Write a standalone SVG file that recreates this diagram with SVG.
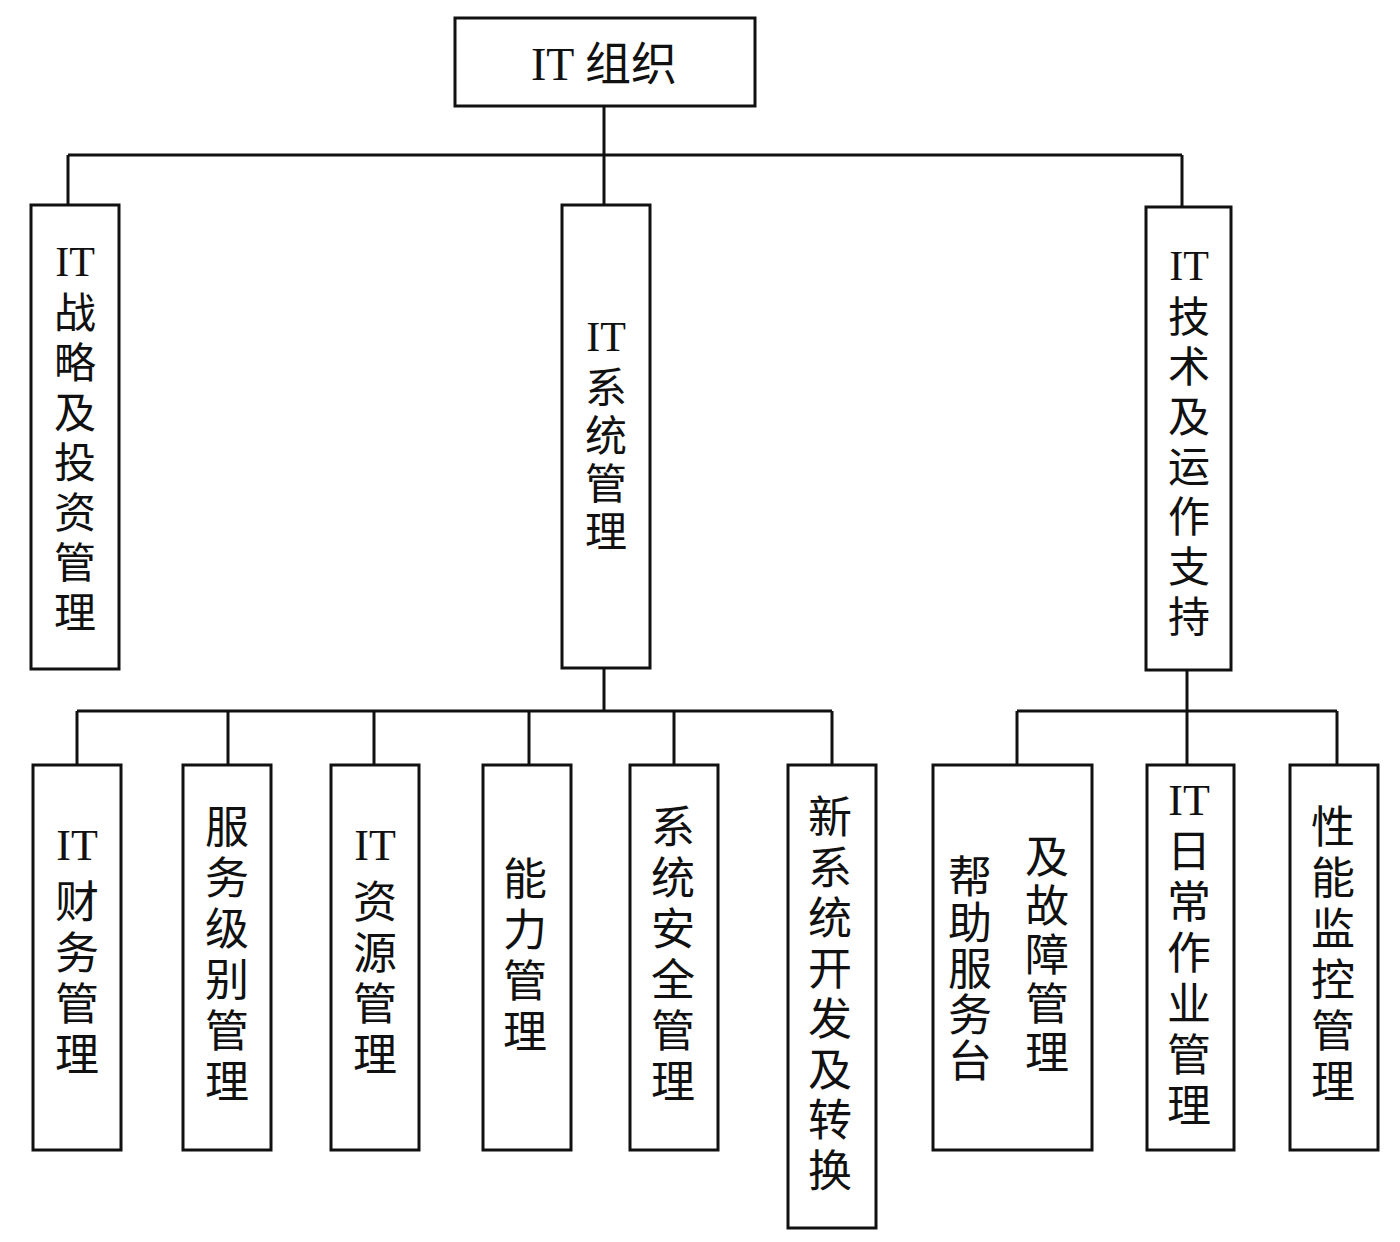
<svg xmlns="http://www.w3.org/2000/svg" width="1400" height="1242" viewBox="0 0 1400 1242">
<style>
rect{fill:#fff;stroke:#111;stroke-width:3}
.c line{stroke:#111;stroke-width:3}
text{font-family:"Liberation Serif","Noto Sans CJK SC",serif;fill:#111;text-anchor:middle;dominant-baseline:central}
.a{font-size:42px}
.b{font-size:44px}
</style>
<rect x="0" y="0" width="1400" height="1242" style="stroke:none"/>
<g class="c">
<line x1="604" y1="106" x2="604" y2="155"/><line x1="68" y1="155" x2="1182" y2="155"/>
<line x1="68" y1="155" x2="68" y2="205"/><line x1="604" y1="155" x2="604" y2="205"/><line x1="1182" y1="155" x2="1182" y2="207"/>
<line x1="604" y1="668" x2="604" y2="711"/><line x1="77" y1="711" x2="832" y2="711"/>
<line x1="77" y1="711" x2="77" y2="765"/><line x1="228" y1="711" x2="228" y2="765"/><line x1="374" y1="711" x2="374" y2="765"/><line x1="529" y1="711" x2="529" y2="765"/><line x1="674" y1="711" x2="674" y2="765"/><line x1="832" y1="711" x2="832" y2="765"/>
<line x1="1187" y1="670" x2="1187" y2="711"/><line x1="1017" y1="711" x2="1337" y2="711"/>
<line x1="1017" y1="711" x2="1017" y2="765"/><line x1="1187" y1="711" x2="1187" y2="765"/><line x1="1337" y1="711" x2="1337" y2="765"/>
</g>
<g id="root"><rect x="455" y="18" width="300" height="88"/><text x="604" y="64" style="font-size:46px">IT 组织</text></g>
<g id="n1"><rect x="31" y="205" width="88" height="464"/><text class="a" x="75" y="262"><tspan x="75">IT</tspan><tspan x="75" dy="52">战</tspan><tspan x="75" dy="50">略</tspan><tspan x="75" dy="50">及</tspan><tspan x="75" dy="50">投</tspan><tspan x="75" dy="50">资</tspan><tspan x="75" dy="50">管</tspan><tspan x="75" dy="50">理</tspan></text></g>
<g id="n2"><rect x="562" y="205" width="88" height="463"/><text class="a" x="606" y="337"><tspan x="606">IT</tspan><tspan x="606" dy="52">系</tspan><tspan x="606" dy="48">统</tspan><tspan x="606" dy="48">管</tspan><tspan x="606" dy="48">理</tspan></text></g>
<g id="n3"><rect x="1146" y="207" width="85" height="463"/><text class="a" x="1189" y="266"><tspan x="1189">IT</tspan><tspan x="1189" dy="52">技</tspan><tspan x="1189" dy="50">术</tspan><tspan x="1189" dy="50">及</tspan><tspan x="1189" dy="50">运</tspan><tspan x="1189" dy="50">作</tspan><tspan x="1189" dy="50">支</tspan><tspan x="1189" dy="50">持</tspan></text></g>
<g id="n4"><rect x="33" y="765" width="88" height="385"/><text class="b" x="77" y="845"><tspan x="77">IT</tspan><tspan x="77" dy="58">财</tspan><tspan x="77" dy="51">务</tspan><tspan x="77" dy="51">管</tspan><tspan x="77" dy="51">理</tspan></text></g>
<g id="n5"><rect x="183" y="765" width="88" height="385"/><text class="b" x="227" y="828"><tspan x="227">服</tspan><tspan x="227" dy="51">务</tspan><tspan x="227" dy="51">级</tspan><tspan x="227" dy="51">别</tspan><tspan x="227" dy="51">管</tspan><tspan x="227" dy="51">理</tspan></text></g>
<g id="n6"><rect x="331" y="765" width="88" height="385"/><text class="b" x="375" y="845"><tspan x="375">IT</tspan><tspan x="375" dy="58">资</tspan><tspan x="375" dy="51">源</tspan><tspan x="375" dy="51">管</tspan><tspan x="375" dy="51">理</tspan></text></g>
<g id="n7"><rect x="483" y="765" width="88" height="385"/><text class="b" x="525" y="880"><tspan x="525">能</tspan><tspan x="525" dy="51">力</tspan><tspan x="525" dy="51">管</tspan><tspan x="525" dy="51">理</tspan></text></g>
<g id="n8"><rect x="630" y="765" width="88" height="385"/><text class="b" x="673" y="828"><tspan x="673">系</tspan><tspan x="673" dy="51">统</tspan><tspan x="673" dy="51">安</tspan><tspan x="673" dy="51">全</tspan><tspan x="673" dy="51">管</tspan><tspan x="673" dy="51">理</tspan></text></g>
<g id="n9"><rect x="788" y="765" width="88" height="463"/><text class="b" x="830" y="818"><tspan x="830">新</tspan><tspan x="830" dy="50.5">系</tspan><tspan x="830" dy="50.5">统</tspan><tspan x="830" dy="50.5">开</tspan><tspan x="830" dy="50.5">发</tspan><tspan x="830" dy="50.5">及</tspan><tspan x="830" dy="50.5">转</tspan><tspan x="830" dy="50.5">换</tspan></text></g>
<g id="n10"><rect x="933" y="765" width="159" height="385"/><text class="b" x="970" y="878"><tspan x="970">帮</tspan><tspan x="970" dy="46">助</tspan><tspan x="970" dy="46">服</tspan><tspan x="970" dy="46">务</tspan><tspan x="970" dy="46">台</tspan></text><text class="b" x="1047" y="858"><tspan x="1047">及</tspan><tspan x="1047" dy="49">故</tspan><tspan x="1047" dy="49">障</tspan><tspan x="1047" dy="49">管</tspan><tspan x="1047" dy="49">理</tspan></text></g>
<g id="n11"><rect x="1147" y="765" width="87" height="385"/><text class="b" x="1189" y="800"><tspan x="1189">IT</tspan><tspan x="1189" dy="52">日</tspan><tspan x="1189" dy="51">常</tspan><tspan x="1189" dy="51">作</tspan><tspan x="1189" dy="51">业</tspan><tspan x="1189" dy="51">管</tspan><tspan x="1189" dy="51">理</tspan></text></g>
<g id="n12"><rect x="1290" y="765" width="88" height="385"/><text class="b" x="1333" y="828"><tspan x="1333">性</tspan><tspan x="1333" dy="51">能</tspan><tspan x="1333" dy="51">监</tspan><tspan x="1333" dy="51">控</tspan><tspan x="1333" dy="51">管</tspan><tspan x="1333" dy="51">理</tspan></text></g>
</svg>
